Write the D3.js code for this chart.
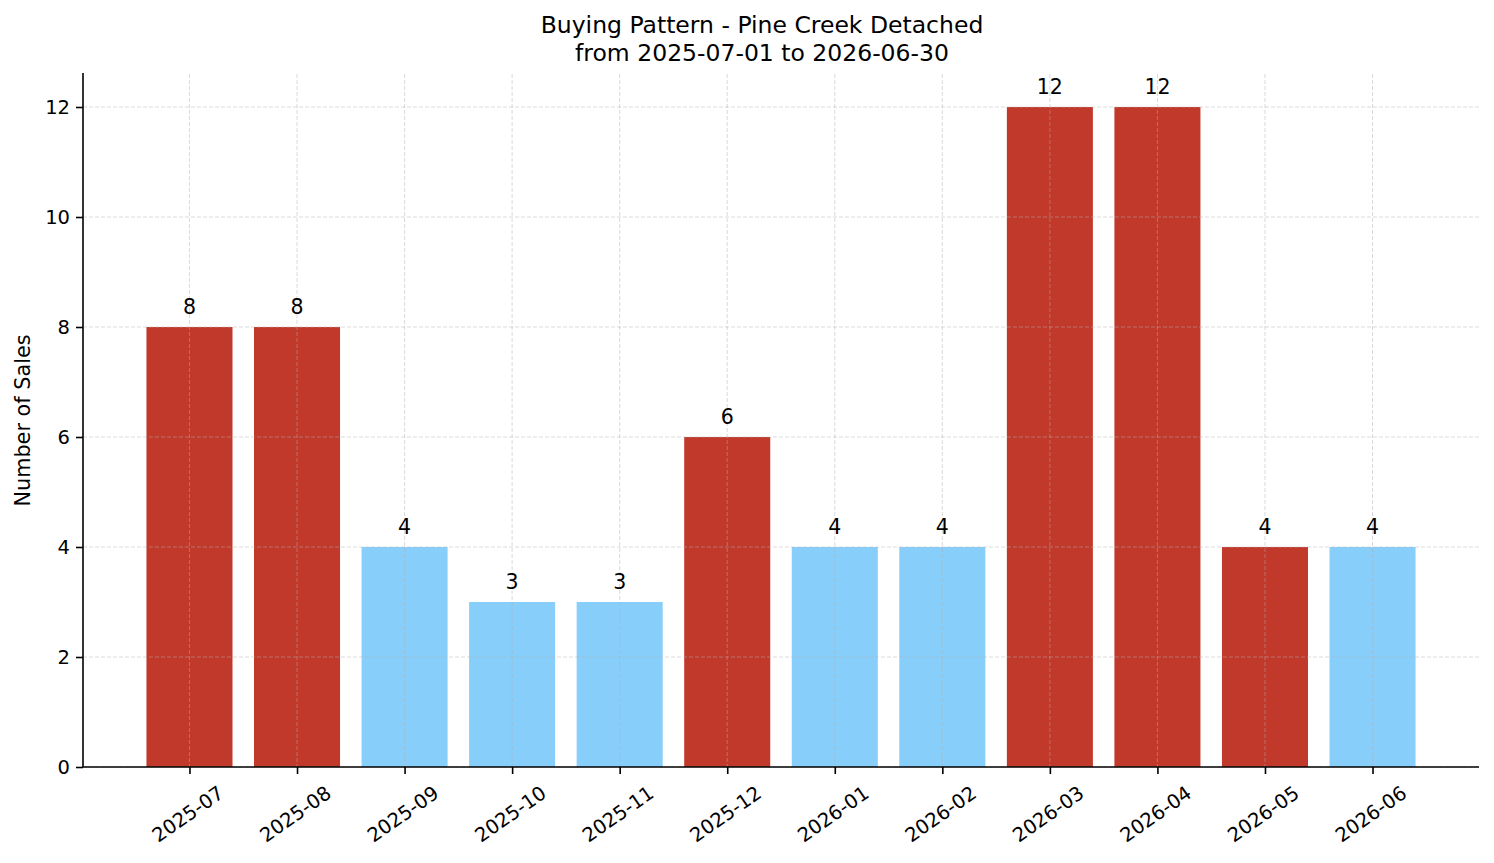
<!DOCTYPE html>
<html>
<head>
	<meta charset="utf-8">
	<title>Buying Pattern</title>
	<style>
		body { margin: 0; background: #fff; }
		text { font-family: "DejaVu Sans", sans-serif; fill: #000; }
	</style>
</head>
<body>
	<svg id="chart" width="1494" height="863"></svg>
<script src="https://d3js.org/d3.v7.min.js"></script>
<script>
	// months and number of sales
	let months = ["2025-07","2025-08","2025-09","2025-10","2025-11","2025-12",
		"2026-01","2026-02","2026-03","2026-04","2026-05","2026-06"]
	let sales = [8, 8, 4, 3, 3, 6, 4, 4, 12, 12, 4, 4]
	// which months are flagged (red) vs normal (blue)
	let flagged = [1, 1, 0, 0, 0, 1, 0, 0, 1, 1, 1, 0]
	let yTicks = [0, 2, 4, 6, 8, 10, 12]

	let svg = d3.select("#chart")
	let pLeft = 83, pRight = 1479, pTop = 74, pBottom = 767

	let n = months.length
	let x = d3.scaleLinear().domain([-0.99, n - 1 + 0.99]).range([pLeft, pRight])
	let y = d3.scaleLinear().domain([0, 12.6]).range([pBottom, pTop])
	let color = d3.scaleOrdinal().domain([0, 1]).range(["#87cefa", "#c0392b"])
	let barW = x(0.8) - x(0)

	// bars
	svg.append("g").selectAll("rect")
		.data(sales)
		.enter()
		.append("rect")
			.attr("x", (d, i) => x(i) - barW / 2)
			.attr("y", d => y(d))
			.attr("width", barW)
			.attr("height", d => y(0) - y(d))
			.attr("fill", (d, i) => color(flagged[i]))

	// grid on top of bars
	let grid = svg.append("g")
		.attr("stroke", "#b0b0b0")
		.attr("stroke-opacity", 0.6)
		.attr("stroke-width", 0.8)
		.attr("stroke-dasharray", "4,2")
	grid.selectAll(".gy").data(yTicks).enter().append("line")
		.attr("x1", pLeft).attr("x2", pRight)
		.attr("y1", d => y(d)).attr("y2", d => y(d))
	grid.selectAll(".gx").data(months).enter().append("line")
		.attr("x1", (d, i) => x(i)).attr("x2", (d, i) => x(i))
		.attr("y1", pTop).attr("y2", pBottom)

	// value labels
	svg.append("g").selectAll("text")
		.data(sales)
		.enter()
		.append("text")
			.attr("x", (d, i) => x(i))
			.attr("y", d => y(d) - 13)
			.attr("text-anchor", "middle")
			.style("font-size", "20.5px")
			.text(d => d)

	// y axis
	let yAxis = d3.axisLeft(y).tickValues(yTicks).tickSize(7).tickPadding(6)
	let gy = svg.append("g")
		.attr("transform", `translate(${pLeft},0)`)
		.call(yAxis)
	gy.selectAll("text").style("font-size", "19.5px").attr("font-family", "DejaVu Sans")
	gy.select(".domain").attr("d", `M0,${pBottom}V${pTop - 1}`)

	// x axis
	let xAxis = d3.axisBottom(x).tickValues(d3.range(n)).tickSize(7).tickFormat(i => months[i])
	let gx = svg.append("g")
		.attr("transform", `translate(0,${pBottom})`)
		.call(xAxis)
	gx.select(".domain").attr("d", `M${pLeft},0H${pRight}`)
	let ang = 35 * Math.PI / 180
	gx.selectAll(".tick text")
		.style("font-size", "19.5px")
		.attr("font-family", "DejaVu Sans")
		.attr("dy", null)
		.attr("dominant-baseline", "central")
		.each(function() {
			let b = this.getBBox()
			let h = b.width * Math.sin(ang) + b.height * Math.cos(ang)
			d3.select(this)
				.attr("y", 0)
				.attr("transform", `translate(-2,${14.5 + h / 2}) rotate(-35)`)
		})

	svg.selectAll(".domain").attr("stroke", "#000").attr("stroke-width", 1.6)
	svg.selectAll(".tick line").attr("stroke", "#000").attr("stroke-width", 1.6)

	// labels
	svg.append("text")
		.attr("transform", `translate(30,${(pTop + pBottom) / 2 - 0}) rotate(-90)`)
		.attr("text-anchor", "middle")
		.style("font-size", "20.8px")
		.text("Number of Sales")

	let title = svg.append("text")
		.attr("text-anchor", "middle")
		.style("font-size", "23.5px")
	title.append("tspan").attr("x", 762).attr("y", 33).text("Buying Pattern - Pine Creek Detached")
	title.append("tspan").attr("x", 762).attr("y", 61).text("from 2025-07-01 to 2026-06-30")
</script>
</body>
</html>
